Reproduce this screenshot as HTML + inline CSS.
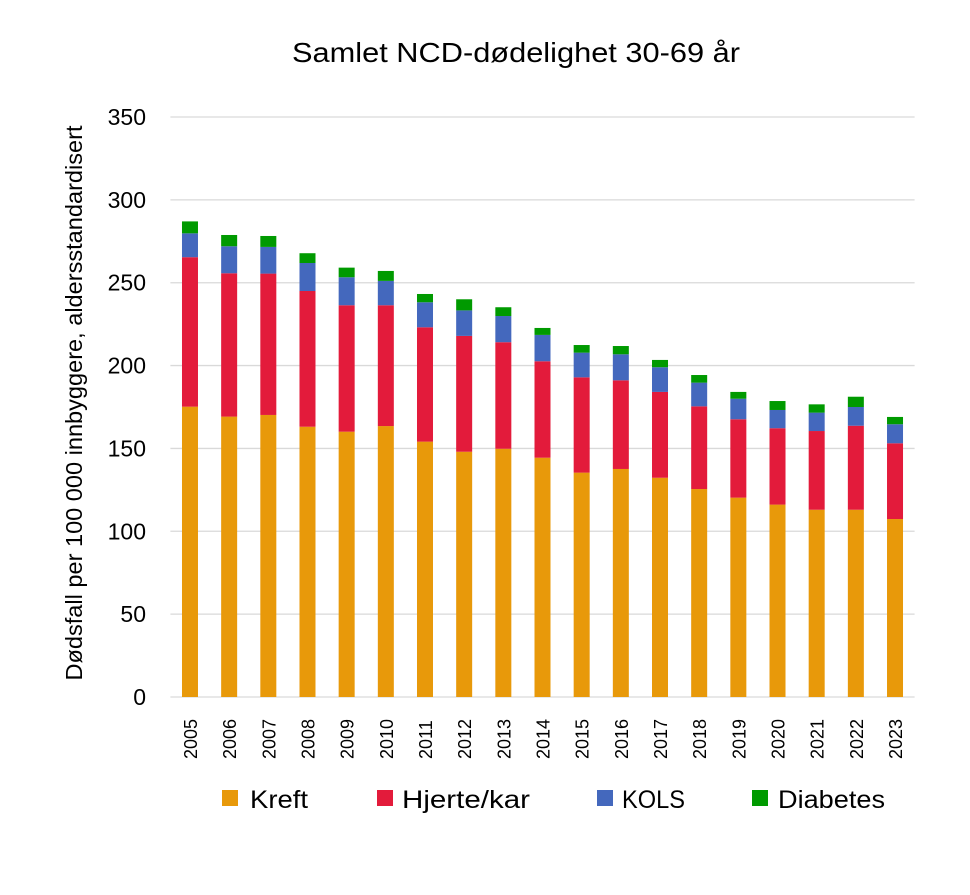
<!DOCTYPE html>
<html><head><meta charset="utf-8"><style>
body{margin:0;background:#fff;font-family:"Liberation Sans",sans-serif}
svg text{font-family:"Liberation Sans",sans-serif;fill:#000}
</style></head><body>
<svg id="chart" width="970" height="890">
<text x="292" y="62" font-size="28" textLength="448" lengthAdjust="spacingAndGlyphs">Samlet NCD-dødelighet 30-69 år</text>
<text transform="translate(82,403) rotate(-90)" font-size="23" text-anchor="middle" textLength="555" lengthAdjust="spacingAndGlyphs">Dødsfall per 100 000 innbyggere, aldersstandardisert</text>
<g id="grid"></g><g id="bars"></g><g id="xlabels"></g>
<g>
<rect x="222" y="790" width="16" height="16" fill="#E8990A"/>
<text x="250" y="808" font-size="25" textLength="58" lengthAdjust="spacingAndGlyphs">Kreft</text>
<rect x="377" y="790" width="16" height="16" fill="#E31B3B"/>
<text x="402" y="808" font-size="25" textLength="128" lengthAdjust="spacingAndGlyphs">Hjerte/kar</text>
<rect x="597" y="790" width="16" height="16" fill="#4468BD"/>
<text x="622" y="808" font-size="25" textLength="63" lengthAdjust="spacingAndGlyphs">KOLS</text>
<rect x="752" y="790" width="16" height="16" fill="#009A00"/>
<text x="778" y="808" font-size="25" textLength="107" lengthAdjust="spacingAndGlyphs">Diabetes</text>
</g>
</svg>
<script>
const years=["2005","2006","2007","2008","2009","2010","2011","2012","2013","2014","2015","2016","2017","2018","2019","2020","2021","2022","2023"];
const kreft=[175.2,169.2,170.2,163.1,160.1,163.5,154.1,148,149.8,144.4,135.4,137.6,132.3,125.5,120.3,116.1,113,113,107.4];
const hjerte=[90.2,86.5,85.3,81.9,76.3,72.9,69,69.9,64.3,58.2,57.5,53.5,51.8,49.9,47.3,46.1,47.5,50.7,45.7];
const kols=[14.4,16.3,16.1,16.9,16.9,14.7,15.1,15.4,15.8,15.9,14.9,15.7,14.9,14.3,12.4,11,11.1,11.3,11.5];
const diabetes=[7.2,6.8,6.6,5.9,5.8,6,5,6.7,5.3,4.2,4.6,5,4.4,4.6,4.1,5.4,5,6.2,4.4];
const yTicks=[0,50,100,150,200,250,300,350];
const NS="http://www.w3.org/2000/svg";
const L=170.4,R=914.6,Y0=697,Y1=117,VMAX=350;
const y=v=>Y0-(v/VMAX)*(Y0-Y1);
const step=(R-L)/years.length;
const xc=i=>L+step*(i+0.5);
const bw=16;
function mk(t,a){const e=document.createElementNS(NS,t);for(const k in a)e.setAttribute(k,a[k]);return e;}
const grid=document.getElementById('grid');
yTicks.forEach(t=>{
 const ln=mk('line',{x1:L,x2:R,y1:y(t),y2:y(t),stroke:'#d9d9d9','stroke-width':1.3});
 
 
 grid.appendChild(ln);
 const tx=mk('text',{x:146,y:y(t)+8,'font-size':23,'text-anchor':'end'});
 tx.textContent=t;
 
 
 grid.appendChild(tx);
});
const series=[[kreft,'#E8990A','kreft'],[hjerte,'#E31B3B','hjerte'],[kols,'#4468BD','kols'],[diabetes,'#009A00','diabetes']];
const bars=document.getElementById('bars'),xl=document.getElementById('xlabels');
years.forEach((yr,i)=>{
 let base=0;
 series.forEach(([arr,col,nm])=>{
  const v=arr[i];
  const r=mk('rect',{x:xc(i)-bw/2,y:y(base+v),width:bw,height:y(base)-y(base+v),fill:col});
  
  
  bars.appendChild(r);
  base+=v;
 });
 const t=mk('text',{transform:`translate(${xc(i)+7},759) rotate(-90)`,'font-size':18,'text-anchor':'start'});
 t.textContent=yr;
 
 
 xl.appendChild(t);
});
</script>
</body></html>
